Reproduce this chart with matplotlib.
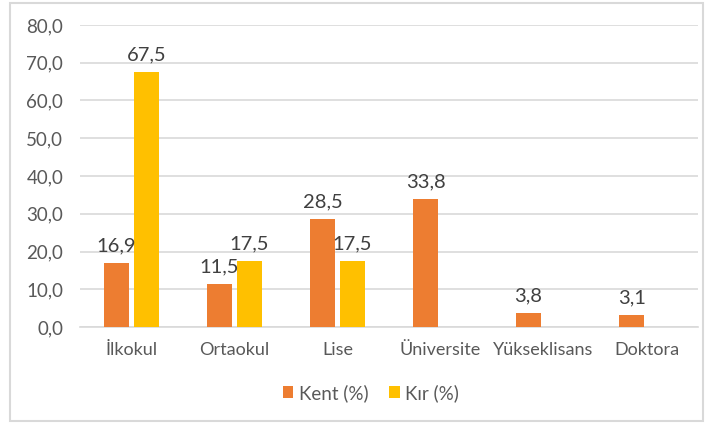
import matplotlib
matplotlib.use('Agg')
import matplotlib.pyplot as plt
import numpy as np
from matplotlib.patches import Rectangle

plt.rcParams['font.family'] = ['Lato', 'DejaVu Sans']

categories = ['İlkokul', 'Ortaokul', 'Lise', 'Üniversite', 'Yükseklisans', 'Doktora']
kent = [16.9, 11.5, 28.5, 33.8, 3.8, 3.1]
kir = [67.5, 17.5, 17.5, None, None, None]
series_names = ['Kent (%)', 'Kır (%)']

orange = '#ED7D31'
yellow = '#FFC000'

fig = plt.figure(figsize=(7.12, 4.23), dpi=100)
ax = fig.add_axes([80/712, 1-327/423, 618/712, 302/423])

x = np.arange(len(categories))
w = 0.235
off = 0.145

kir_vals = [v if v is not None else 0 for v in kir]
b1 = ax.bar(x - off, kent, w, color=orange, label=series_names[0], zorder=3)
b2 = ax.bar(x + off, kir_vals, w, color=yellow, label=series_names[1], zorder=3)

def fmt(v):
    return f'{v:.1f}'.replace('.', ',')

for xi, v in zip(x, kent):
    ax.text(xi - off, v + 2.3, fmt(v), ha='center', va='bottom', fontsize=14.5, color='#404040')
for xi, v in zip(x, kir):
    if v is not None:
        ax.text(xi + off, v + 2.3, fmt(v), ha='center', va='bottom', fontsize=14.5, color='#404040')

ax.set_xlim(-0.5, len(categories) - 0.5)
ax.set_ylim(0, 80)
ax.set_yticks(np.arange(0, 81, 10))
ax.set_yticklabels([fmt(t) for t in np.arange(0, 81, 10)])
ax.set_xticks(x)
ax.set_xticklabels(categories)
ax.tick_params(axis='y', length=0, labelsize=13.5, colors='#595959', pad=12)
ax.tick_params(axis='x', length=0, labelsize=13, colors='#595959', pad=11)
ax.grid(axis='y', color='#D9D9D9', linewidth=1.2, zorder=0)
for s in ['top', 'right', 'left']:
    ax.spines[s].set_visible(False)
ax.spines['bottom'].set_color('#D9D9D9')
ax.spines['bottom'].set_linewidth(1.2)

leg = fig.legend(handles=[b1, b2], loc='center', bbox_to_anchor=(371/712, 1-393/423),
                 ncol=2, frameon=False, fontsize=13.5, handlelength=0.55, handleheight=0.6,
                 columnspacing=1.1, handletextpad=0.3)
for t in leg.get_texts():
    t.set_color('#595959')

fig.patches.append(Rectangle((10/712, 2/423), 693/712, 418/423, transform=fig.transFigure,
                             fill=False, edgecolor='#D9D9D9', linewidth=1.5))

fig.savefig('out.png', dpi=100)
